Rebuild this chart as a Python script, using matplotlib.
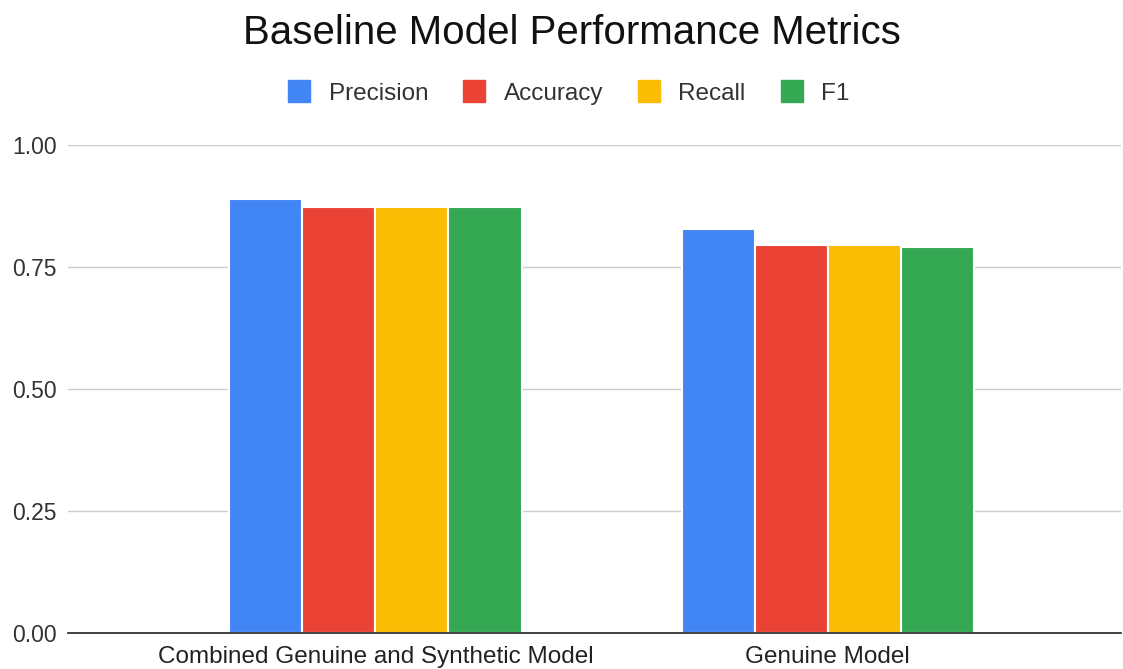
import numpy as np
import matplotlib.pyplot as plt
from matplotlib.lines import Line2D

plt.rcParams['font.family'] = ['Liberation Sans', 'DejaVu Sans']

categories = ['Combined Genuine and Synthetic Model', 'Genuine Model']
series = ['Precision', 'Accuracy', 'Recall', 'F1']
precision = [0.889, 0.828]
accuracy = [0.873, 0.795]
recall = [0.873, 0.795]
f1 = [0.873, 0.791]
colors = ['#4285F4', '#EA4335', '#FBBC04', '#34A853']
yticks = [0.0, 0.25, 0.5, 0.75, 1.0]
ytick_labels = ['0.00', '0.25', '0.50', '0.75', '1.00']

values = [precision, accuracy, recall, f1]

fig = plt.figure(figsize=(11.23, 6.69), dpi=100)
ax = fig.add_axes([0.0606, 0.0538, 0.938, 0.729])

x = np.arange(len(categories))
w = 0.1615
for i, (vals, c) in enumerate(zip(values, colors)):
	ax.bar(x + (i - 1.5) * w, vals, w, color=c, edgecolor='white', linewidth=1.5, zorder=3)

ax.set_ylim(0, 1)
ax.set_xlim(-0.68, 1.65)
ax.set_yticks(yticks)
ax.set_yticklabels(ytick_labels, fontsize=16.5, color='#333333')
ax.set_xticks(x)
ax.set_xticklabels(categories, fontsize=17.5, color='#222222')
ax.tick_params(axis='both', length=0)
ax.tick_params(axis='y', pad=8)
ax.tick_params(axis='x', pad=9)
ax.grid(axis='y', color='#cccccc', linewidth=1, zorder=0)
for s in ['top', 'right', 'left']:
	ax.spines[s].set_visible(False)
ax.spines['bottom'].set_color('#333333')
ax.spines['bottom'].set_linewidth(1.3)
ax.spines['bottom'].set_zorder(4)

fig.text(0.509, 0.95, 'Baseline Model Performance Metrics', ha='center', va='center',
	fontsize=29, color='#111111')

handles = [Line2D([], [], marker='s', linestyle='none', markersize=16.5, color=c) for c in colors]
fig.legend(handles, series, loc='center', bbox_to_anchor=(0.506, 0.86), ncol=4,
	frameon=False, fontsize=17.5, handlelength=1.0, handletextpad=0.7,
	columnspacing=1.4, labelcolor='#333333')

fig.savefig('out.png', dpi=100)
